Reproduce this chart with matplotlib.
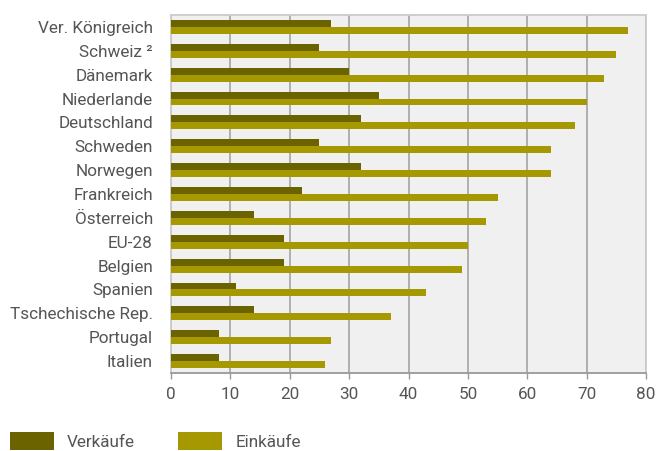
import matplotlib
matplotlib.use("Agg")
import matplotlib.pyplot as plt
import numpy as np

# Data (values in %)
countries = ["Ver. Königreich", "Schweiz ²", "Dänemark", "Niederlande", "Deutschland",
             "Schweden", "Norwegen", "Frankreich", "Österreich", "EU-28", "Belgien",
             "Spanien", "Tschechische Rep.", "Portugal", "Italien"]
verkaeufe = [27, 25, 30, 35, 32, 25, 32, 22, 14, 19, 19, 11, 14, 8, 8]
einkaeufe = [77, 75, 73, 70, 68, 64, 64, 55, 53, 50, 49, 43, 37, 27, 26]
x_ticks = [0, 10, 20, 30, 40, 50, 60, 70, 80]

DARK = "#6b6200"
LIGHT = "#a69800"
TEXT = "#555555"
FS = 12.3

plt.rcParams['font.family'] = ['Roboto', 'DejaVu Sans']

fig = plt.figure(figsize=(6.56, 4.51), dpi=100)
ax = fig.add_axes([171 / 656, 78 / 451, 475 / 656, 358 / 451])
ax.set_facecolor("#f0f0f0")

y = np.arange(len(countries))
h = 0.29
ax.barh(y - h / 2, verkaeufe, height=h, color=DARK, label="Verkäufe", zorder=3)
ax.barh(y + h / 2, einkaeufe, height=h, color=LIGHT, label="Einkäufe", zorder=3)

ax.set_xlim(0, 80)
ax.set_ylim(len(countries) - 0.5, -0.5)
ax.set_xticks(x_ticks)
ax.set_xticklabels([str(t) for t in x_ticks], fontsize=FS, color=TEXT)
ax.set_yticks(y)
ax.set_yticklabels(countries, fontsize=FS, color=TEXT)
ax.tick_params(axis='y', length=0, pad=13)
ax.tick_params(axis='x', length=4, width=1, color="#999999", pad=6)

ax.grid(axis='x', color="#aaaaaa", linewidth=1.3, zorder=1)
for side in ["top", "right", "left"]:
    ax.spines[side].set_color("#cccccc")
    ax.spines[side].set_linewidth(1.3)
ax.spines["bottom"].set_color("#999999")
ax.spines["bottom"].set_linewidth(1.3)

fig.legend(loc="center left", bbox_to_anchor=(10 / 656, 1 - 441 / 451), ncol=2,
           frameon=False, fontsize=FS, labelcolor=TEXT, borderpad=0, borderaxespad=0,
           handlelength=2.6, handleheight=1.3, handletextpad=0.75, columnspacing=2.5)

fig.savefig("out.png", dpi=100)
